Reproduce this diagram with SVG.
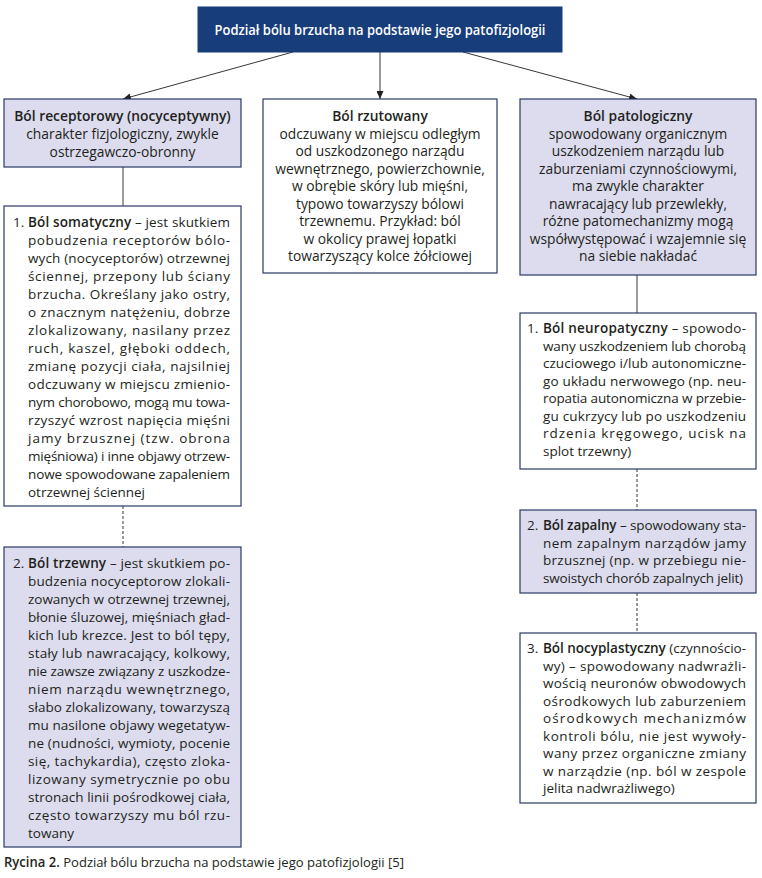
<svg xmlns="http://www.w3.org/2000/svg" width="762" height="878" viewBox="0 0 762 878">
<style>
.bg{fill:#ffffff}
.box{stroke:#2b3966;stroke-width:1.2}
.lav{fill:#dcdcee}
.wh{fill:#ffffff}
.title{fill:#173d7b;stroke:#173d7b}
.t{font-family:"Open Sans","Noto Sans","DejaVu Sans",sans-serif;font-size:13.5px;fill:#231f20}
.c{text-anchor:middle;font-size:13.8px}
.b{font-weight:600}
.tt{font-family:"Open Sans","Noto Sans",sans-serif;font-size:13.5px;font-weight:600;fill:#ffffff;text-anchor:middle}
.ln{stroke:#231f20;stroke-width:0.9;fill:none}
.dash{stroke-dasharray:3 2}
</style>
<defs>
<marker id="arr" markerWidth="8" markerHeight="7" refX="8" refY="3.5" orient="auto" markerUnits="userSpaceOnUse">
<path d="M0,0 L8,3.5 L0,7 z" fill="#231f20"/>
</marker>
</defs>
<rect class="bg" x="0" y="0" width="762" height="878"/>

<g id="connectors">
<line class="ln" x1="293" y1="52" x2="123" y2="99" marker-end="url(#arr)"/>
<line class="ln" x1="380" y1="52" x2="380" y2="99" marker-end="url(#arr)"/>
<line class="ln" x1="463" y1="52" x2="637" y2="99" marker-end="url(#arr)"/>
<line class="ln" x1="123" y1="167" x2="123" y2="206"/>
<line class="ln dash" x1="123" y1="506" x2="123" y2="547"/>
<line class="ln" x1="637" y1="275" x2="637" y2="313"/>
<line class="ln dash" x1="637" y1="469" x2="637" y2="510"/>
<line class="ln dash" x1="637" y1="593" x2="637" y2="633"/>
</g>

<g id="title">
<rect class="title" x="198" y="7" width="364" height="45"/>
<text class="tt" x="380" y="34.5" textLength="331" lengthAdjust="spacingAndGlyphs">Podział bólu brzucha na podstawie jego patofizjologii</text>
</g>

<g id="receptorowy">
<rect class="box lav" x="4" y="99" width="237" height="68"/>
<text class="t c" x="122.5" y="121"><tspan class="b">Ból receptorowy (nocyceptywny)</tspan></text>
<text class="t c" x="122.5" y="139">charakter fizjologiczny, zwykle</text>
<text class="t c" x="122.5" y="157">ostrzegawczo-obronny</text>
</g>

<g id="rzutowany">
<rect class="box wh" x="263" y="99" width="234" height="174"/>
<text class="t c" x="380" y="121"><tspan class="b">Ból rzutowany</tspan></text>
<text class="t c" x="380" y="138.5">odczuwany w miejscu odległym</text>
<text class="t c" x="380" y="156">od uszkodzonego narządu</text>
<text class="t c" x="380" y="173.5">wewnętrznego, powierzchownie,</text>
<text class="t c" x="380" y="191">w obrębie skóry lub mięśni,</text>
<text class="t c" x="380" y="208.5">typowo towarzyszy bólowi</text>
<text class="t c" x="380" y="226">trzewnemu. Przykład: ból</text>
<text class="t c" x="380" y="243.5">w okolicy prawej łopatki</text>
<text class="t c" x="380" y="261">towarzyszący kolce żółciowej</text>
</g>

<g id="patologiczny">
<rect class="box lav" x="520" y="99" width="236" height="176"/>
<text class="t c" x="638" y="121"><tspan class="b">Ból patologiczny</tspan></text>
<text class="t c" x="638" y="138.5">spowodowany organicznym</text>
<text class="t c" x="638" y="156">uszkodzeniem narządu lub</text>
<text class="t c" x="638" y="173.5">zaburzeniami czynnościowymi,</text>
<text class="t c" x="638" y="191">ma zwykle charakter</text>
<text class="t c" x="638" y="208.5">nawracający lub przewlekły,</text>
<text class="t c" x="638" y="226">różne patomechanizmy mogą</text>
<text class="t c" x="638" y="243.5">współwystępować i wzajemnie się</text>
<text class="t c" x="638" y="261">na siebie nakładać</text>
</g>

<g id="somatyczny">
<rect class="box wh" x="4" y="206" width="237" height="300"/>
<text class="t" x="13" y="227">1.</text>
<text class="t" x="28" y="227" textLength="202" lengthAdjust="spacing"><tspan class="b">Ból somatyczny</tspan> – jest skutkiem</text>
<text class="t" x="28" y="245" textLength="202" lengthAdjust="spacing">pobudzenia receptorów bólo-</text>
<text class="t" x="28" y="263" textLength="202" lengthAdjust="spacing">wych (nocyceptorów) otrzewnej</text>
<text class="t" x="28" y="281" textLength="202" lengthAdjust="spacing">ściennej, przepony lub ściany</text>
<text class="t" x="28" y="299" textLength="202" lengthAdjust="spacing">brzucha. Określany jako ostry,</text>
<text class="t" x="28" y="317" textLength="202" lengthAdjust="spacing">o znacznym natężeniu, dobrze</text>
<text class="t" x="28" y="335" textLength="202" lengthAdjust="spacing">zlokalizowany, nasilany przez</text>
<text class="t" x="28" y="353" textLength="202" lengthAdjust="spacing">ruch, kaszel, głęboki oddech,</text>
<text class="t" x="28" y="371" textLength="202" lengthAdjust="spacing">zmianę pozycji ciała, najsilniej</text>
<text class="t" x="28" y="389" textLength="202" lengthAdjust="spacing">odczuwany w miejscu zmienio-</text>
<text class="t" x="28" y="407" textLength="202" lengthAdjust="spacing">nym chorobowo, mogą mu towa-</text>
<text class="t" x="28" y="425" textLength="202" lengthAdjust="spacing">rzyszyć wzrost napięcia mięśni</text>
<text class="t" x="28" y="443" textLength="202" lengthAdjust="spacing">jamy brzusznej (tzw. obrona</text>
<text class="t" x="28" y="461" textLength="202" lengthAdjust="spacing">mięśniowa) i inne objawy otrzew-</text>
<text class="t" x="28" y="479" textLength="202" lengthAdjust="spacing">nowe spowodowane zapaleniem</text>
<text class="t" x="28" y="497">otrzewnej ściennej</text>
</g>

<g id="trzewny">
<rect class="box lav" x="4" y="547" width="237" height="300"/>
<text class="t" x="13" y="568">2.</text>
<text class="t" x="28" y="568" textLength="202" lengthAdjust="spacing"><tspan class="b">Ból trzewny</tspan> – jest skutkiem po-</text>
<text class="t" x="28" y="586" textLength="202" lengthAdjust="spacing">budzenia nocyceptorow zlokali-</text>
<text class="t" x="28" y="604" textLength="202" lengthAdjust="spacing">zowanych w otrzewnej trzewnej,</text>
<text class="t" x="28" y="622" textLength="202" lengthAdjust="spacing">błonie śluzowej, mięśniach gład-</text>
<text class="t" x="28" y="640" textLength="202" lengthAdjust="spacing">kich lub krezce. Jest to ból tępy,</text>
<text class="t" x="28" y="658" textLength="202" lengthAdjust="spacing">stały lub nawracający, kolkowy,</text>
<text class="t" x="28" y="676" textLength="202" lengthAdjust="spacing">nie zawsze związany z uszkodze-</text>
<text class="t" x="28" y="694" textLength="202" lengthAdjust="spacing">niem narządu wewnętrznego,</text>
<text class="t" x="28" y="712" textLength="202" lengthAdjust="spacing">słabo zlokalizowany, towarzyszą</text>
<text class="t" x="28" y="730" textLength="202" lengthAdjust="spacing">mu nasilone objawy wegetatyw-</text>
<text class="t" x="28" y="748" textLength="202" lengthAdjust="spacing">ne (nudności, wymioty, pocenie</text>
<text class="t" x="28" y="766" textLength="202" lengthAdjust="spacing">się, tachykardia), często zloka-</text>
<text class="t" x="28" y="784" textLength="202" lengthAdjust="spacing">lizowany symetrycznie po obu</text>
<text class="t" x="28" y="802" textLength="202" lengthAdjust="spacing">stronach linii pośrodkowej ciała,</text>
<text class="t" x="28" y="820" textLength="202" lengthAdjust="spacing">często towarzyszy mu ból rzu-</text>
<text class="t" x="28" y="838">towany</text>
</g>

<g id="neuropatyczny">
<rect class="box wh" x="520" y="313" width="236" height="156"/>
<text class="t" x="527" y="333">1.</text>
<text class="t" x="543" y="333" textLength="203" lengthAdjust="spacing"><tspan class="b">Ból neuropatyczny</tspan> – spowodo-</text>
<text class="t" x="543" y="350.5" textLength="203" lengthAdjust="spacing">wany uszkodzeniem lub chorobą</text>
<text class="t" x="543" y="368" textLength="203" lengthAdjust="spacing">czuciowego i/lub autonomiczne-</text>
<text class="t" x="543" y="385.5" textLength="203" lengthAdjust="spacing">go układu nerwowego (np. neu-</text>
<text class="t" x="543" y="403" textLength="203" lengthAdjust="spacing">ropatia autonomiczna w przebie-</text>
<text class="t" x="543" y="420.5" textLength="203" lengthAdjust="spacing">gu cukrzycy lub po uszkodzeniu</text>
<text class="t" x="543" y="438" textLength="203" lengthAdjust="spacing">rdzenia kręgowego, ucisk na</text>
<text class="t" x="543" y="455.5">splot trzewny)</text>
</g>

<g id="zapalny">
<rect class="box lav" x="520" y="510" width="236" height="83"/>
<text class="t" x="527" y="530">2.</text>
<text class="t" x="543" y="530" textLength="203" lengthAdjust="spacing"><tspan class="b">Ból zapalny</tspan> – spowodowany sta-</text>
<text class="t" x="543" y="547.5" textLength="203" lengthAdjust="spacing">nem zapalnym narządów jamy</text>
<text class="t" x="543" y="565" textLength="203" lengthAdjust="spacing">brzusznej (np. w przebiegu nie-</text>
<text class="t" x="543" y="582.5" textLength="200" lengthAdjust="spacing">swoistych chorób zapalnych jelit)</text>
</g>

<g id="nocyplastyczny">
<rect class="box wh" x="520" y="633" width="236" height="170"/>
<text class="t" x="527" y="653">3.</text>
<text class="t" x="543" y="653" textLength="203" lengthAdjust="spacing"><tspan class="b">Ból nocyplastyczny</tspan> (czynnościo-</text>
<text class="t" x="543" y="670.5" textLength="203" lengthAdjust="spacing">wy) – spowodowany nadwrażli-</text>
<text class="t" x="543" y="688" textLength="203" lengthAdjust="spacing">wością neuronów obwodowych</text>
<text class="t" x="543" y="705.5" textLength="203" lengthAdjust="spacing">ośrodkowych lub zaburzeniem</text>
<text class="t" x="543" y="723" textLength="203" lengthAdjust="spacing">ośrodkowych mechanizmów</text>
<text class="t" x="543" y="740.5" textLength="203" lengthAdjust="spacing">kontroli bólu, nie jest wywoły-</text>
<text class="t" x="543" y="758" textLength="203" lengthAdjust="spacing">wany przez organiczne zmiany</text>
<text class="t" x="543" y="775.5" textLength="203" lengthAdjust="spacing">w narządzie (np. ból w zespole</text>
<text class="t" x="543" y="793">jelita nadwrażliwego)</text>
</g>

<g id="caption">
<text class="t" x="4" y="867" font-size="13" textLength="400" lengthAdjust="spacingAndGlyphs"><tspan class="b">Rycina 2.</tspan> Podział bólu brzucha na podstawie jego patofizjologii [5]</text>
</g>
</svg>
